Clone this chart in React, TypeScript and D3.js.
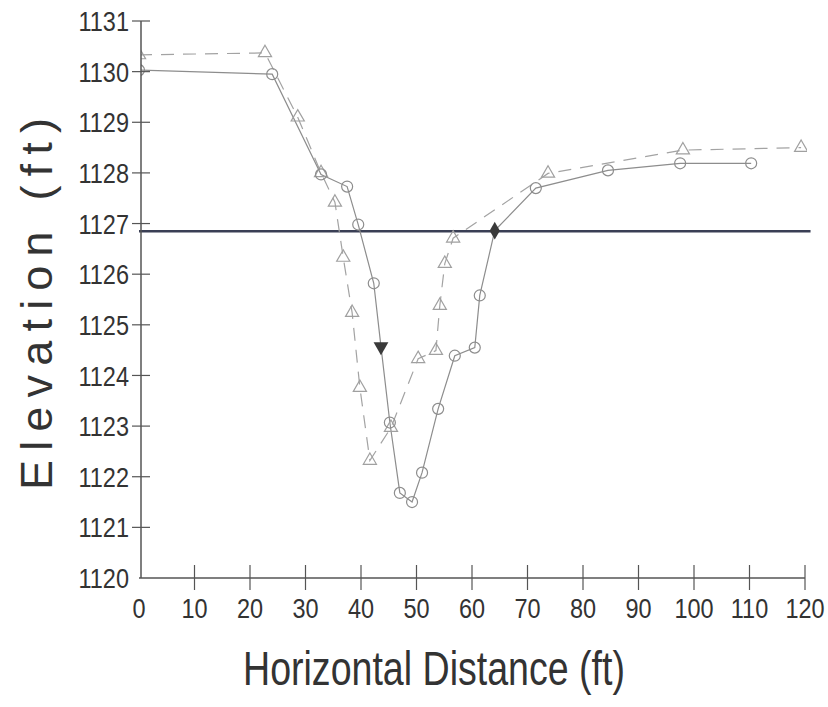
import React from "react";
import * as d3 from "d3";

// Circle series (surveyed profile, solid line)
const circleX = [0, 24, 32.8, 37.5, 39.5, 42.3, 43.6, 45.2, 47, 49.2, 51, 53.9, 56.9, 60.5, 61.4, 64.1, 71.5, 84.5, 97.5, 110.3];
const circleY = [1130.03, 1129.95, 1127.97, 1127.73, 1126.98, 1125.82, 1124.57, 1123.07, 1121.68, 1121.5, 1122.08, 1123.34, 1124.39, 1124.55, 1125.58, 1126.86, 1127.7, 1128.05, 1128.19, 1128.19];
// marker type for each circle-series point
const circleMarker = ["c", "c", "c", "c", "c", "c", "tri", "c", "c", "c", "c", "c", "c", "c", "c", "dia", "c", "c", "c", "c"];

// Triangle series (dashed line)
const triX = [0, 22.7, 28.6, 32.8, 35.3, 36.8, 38.4, 39.8, 41.6, 45.4, 50.3, 53.5, 54.2, 55.1, 56.6, 73.7, 98, 119.3];
const triY = [1130.33, 1130.37, 1129.1, 1128.0, 1127.42, 1126.33, 1125.24, 1123.76, 1122.32, 1122.97, 1124.33, 1124.49, 1125.38, 1126.21, 1126.71, 1127.99, 1128.45, 1128.5];

const waterLevel = 1126.85;

const xTicks = [0, 10, 20, 30, 40, 50, 60, 70, 80, 90, 100, 110, 120];
const yTicks = [1120, 1121, 1122, 1123, 1124, 1125, 1126, 1127, 1128, 1129, 1130, 1131];

const W = 828;
const H = 707;
const FONT = "'Liberation Sans', Arial, sans-serif";
const NARROW = 0.84;

export default function App() {
  const x = d3.scaleLinear().domain([0, 120]).range([139, 805]);
  const y = d3.scaleLinear().domain([1120, 1131]).range([578, 21]);

  const circPts = circleX.map((v, i) => [x(v), y(circleY[i])] as [number, number]);
  const triPts = triX.map((v, i) => [x(v), y(triY[i])] as [number, number]);
  const line = d3.line();

  const triSym = d3.symbol().type(d3.symbolTriangle).size(75)() as string;
  const triDown = d3.symbol().type(d3.symbolTriangle).size(95)() as string;
  const diaSym = d3.symbol().type(d3.symbolDiamond).size(90)() as string;

  return (
    <svg width={W} height={H} style={{ position: "absolute", left: 0, top: 0, background: "#fff" }}>
      <defs>
        <clipPath id="plot">
          <rect x={x(0) + 2} y={0} width={x(120) - x(0)} height={y(1120)} />
        </clipPath>
      </defs>
      <rect width={W} height={H} fill="#fff" />

      {/* water level line */}
      <line x1={x(0)} x2={x(121)} y1={y(waterLevel)} y2={y(waterLevel)} stroke="#3a3f55" strokeWidth={2.5} />

      <g clipPath="url(#plot)">
        <path d={line(triPts) as string} fill="none" stroke="#a3a3a3" strokeWidth={1.2} strokeDasharray="13,9" />
        <path d={line(circPts) as string} fill="none" stroke="#8d8d8d" strokeWidth={1.2} />
        {triPts.map((p, i) => (
          <path key={"t" + i} d={triSym} transform={`translate(${p[0]},${p[1]})`} fill="none" stroke="#a0a0a0" strokeWidth={1.2} />
        ))}
        {circPts.map((p, i) =>
          circleMarker[i] === "c" ? (
            <circle key={"c" + i} cx={p[0]} cy={p[1]} r={5.5} fill="none" stroke="#8d8d8d" strokeWidth={1.2} />
          ) : circleMarker[i] === "tri" ? (
            <path key={"c" + i} d={triDown} transform={`translate(${p[0]},${p[1]}) rotate(180)`} fill="#3a3a3a" />
          ) : (
            <path key={"c" + i} d={diaSym} transform={`translate(${p[0]},${p[1]})`} fill="#3a3a3a" />
          )
        )}
      </g>

      {/* axes */}
      <line x1={x(0) + 2} x2={x(0) + 2} y1={y(1131)} y2={y(1120)} stroke="#555" strokeWidth={1.5} />
      <line x1={x(0)} x2={x(120)} y1={y(1120)} y2={y(1120)} stroke="#555" strokeWidth={1.5} />

      {yTicks.map((t) => (
        <g key={"yt" + t}>
          {t !== 1120 && <line x1={132} x2={150} y1={y(t)} y2={y(t)} stroke="#555" strokeWidth={1.2} />}
          <g transform={`translate(129,${y(t)}) scale(${NARROW},1)`}>
            <text dy="0.36em" textAnchor="end" fontFamily={FONT} fontSize={28} fill="#333">
              {t}
            </text>
          </g>
        </g>
      ))}

      {xTicks.map((t) => (
        <g key={"xt" + t}>
          {t !== 0 && <line x1={x(t)} x2={x(t)} y1={565} y2={590} stroke="#555" strokeWidth={1.2} />}
          <g transform={`translate(${x(t)},618) scale(${NARROW},1)`}>
            <text textAnchor="middle" fontFamily={FONT} fontSize={28} fill="#333">
              {t}
            </text>
          </g>
        </g>
      ))}

      <text x={434} y={685} textAnchor="middle" fontFamily={FONT} fontSize={48} fill="#333" textLength={382} lengthAdjust="spacingAndGlyphs">
        Horizontal Distance (ft)
      </text>

      <text
        transform={`translate(52,304) rotate(-90)`}
        textAnchor="middle"
        fontFamily={FONT}
        fontSize={45}
        fill="#333"
        textLength={372}
        lengthAdjust="spacing"
      >
        Elevation (ft)
      </text>
    </svg>
  );
}
